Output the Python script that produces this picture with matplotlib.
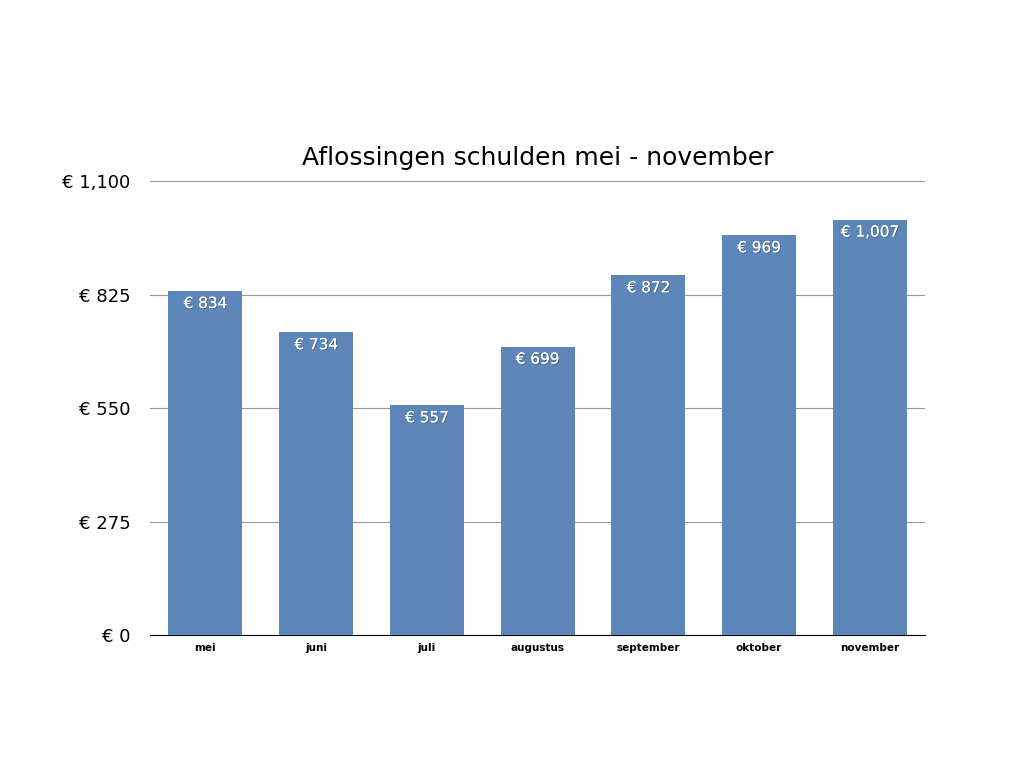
import matplotlib
matplotlib.use("Agg")
import matplotlib.pyplot as plt
import matplotlib.patheffects as pe

months = ["mei", "juni", "juli", "augustus", "september", "oktober", "november"]
values = [834, 734, 557, 699, 872, 969, 1007]
yticks = [0, 275, 550, 825, 1100]

fig = plt.figure(figsize=(10.24, 7.68), dpi=100)
ax = fig.add_axes([0.1465, 0.173, 0.757, 0.591])
x = range(len(months))
bars = ax.bar(x, values, width=0.67, color="#5E87B9", zorder=3)
ax.set_xlim(-0.5, len(months) - 0.5)
ax.set_ylim(0, 1100)
ax.set_yticks(yticks)
ax.set_yticklabels([f"€ {v:,}" for v in yticks], fontsize=13)
ax.set_xticks(list(x))
ax.set_xticklabels(months, fontsize=7.5, fontweight="bold")
ax.tick_params(length=0, pad=6)
ax.tick_params(axis="y", pad=14)
for s in ["top", "right", "left"]:
    ax.spines[s].set_visible(False)
ax.spines["bottom"].set_color("black")
ax.yaxis.grid(True, color="#999999", linewidth=0.8, zorder=0)
for b, v in zip(bars, values):
    ax.text(b.get_x() + b.get_width() / 2, v - 12, f"€ {v:,}", ha="center", va="top",
            color="white", fontsize=11, zorder=4,
            path_effects=[pe.withSimplePatchShadow(offset=(0.6, -0.6), shadow_rgbFace="#333333", alpha=0.5), pe.Normal()])
ax.set_title("Aflossingen schulden mei - november", fontsize=18, pad=12)
fig.savefig("out.png", dpi=100)
